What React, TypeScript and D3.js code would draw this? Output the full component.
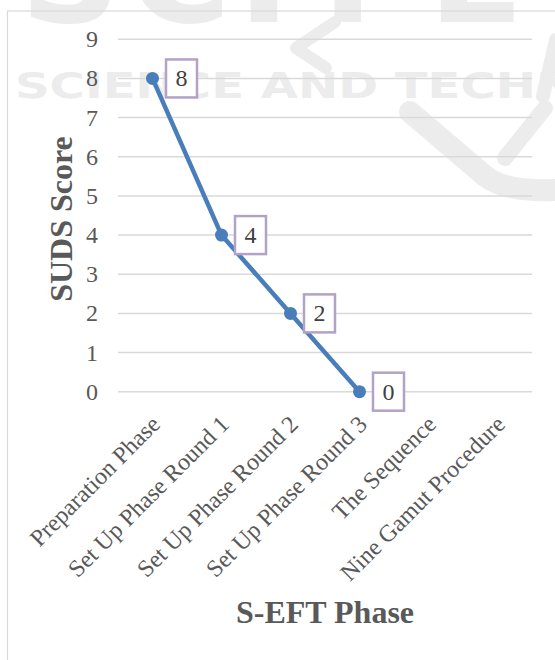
import React from "react";
import * as d3 from "d3";

// Phases on the x axis
const categories = [
  "Preparation Phase",
  "Set Up Phase Round 1",
  "Set Up Phase Round 2",
  "Set Up Phase Round 3",
  "The Sequence",
  "Nine Gamut Procedure",
];
// SUDS score recorded for the phases that have a value
const scoreValues = [8, 4, 2, 0];
const yTickValues = [0, 1, 2, 3, 4, 5, 6, 7, 8, 9];
const yTitle = "SUDS Score";
const xTitle = "S-EFT Phase";

const W = 555;
const H = 660;
const plot = { left: 118, right: 532, top: 39.3, bottom: 391.7 };

const SERIF = "'Liberation Serif', 'Times New Roman', serif";
const TEXT = "#595959";
const GRID = "#d9d9d9";
const LINE = "#4a7ebb";
const LABEL_BOX = "#b3a2c7";
const WATERMARK = "#ececec";

export default function App() {
  const x = d3
    .scalePoint<string>()
    .domain(categories)
    .range([plot.left, plot.right])
    .padding(0.5);
  const y = d3.scaleLinear().domain([0, 9]).range([plot.bottom, plot.top]);

  const points = scoreValues.map((v, i) => ({ cat: categories[i], v }));
  const line = d3
    .line<{ cat: string; v: number }>()
    .x((d) => x(d.cat) as number)
    .y((d) => y(d.v));

  return (
    <svg
      width={W}
      height={H}
      style={{ position: "absolute", left: 0, top: 0, background: "#fff" }}
    >
      {/* faint publisher watermark behind the chart */}
      <g fill={WATERMARK} fontFamily="'DejaVu Sans', sans-serif" fontWeight="bold">
        <text x={20} y={22} fontSize={140}>S</text>
        <text x={128} y={22} fontSize={140}>C</text>
        <text x={238} y={22} fontSize={140}>I</text>
        <text x={300} y={22} fontSize={140}>T</text>
        <text x={428} y={22} fontSize={140}>E</text>
        <text
          x={15}
          y={98}
          fontSize={36}
          textLength={745}
          lengthAdjust="spacingAndGlyphs"
        >
          SCIENCE AND TECHNOLOGY
        </text>
      </g>
      <g fill="none" stroke={WATERMARK} strokeLinecap="round" strokeLinejoin="round">
        <path d="M335,22 L296,48 L326,68" strokeWidth={12} />
        <path d="M410,112 L485,176 Q505,192 555,190" strokeWidth={22} />
        <path d="M545,108 L505,158" strokeWidth={16} />
        <path d="M556,40 L543,96" strokeWidth={14} />
      </g>

      {/* chart area border */}
      <rect x={7.5} y={11} width={W} height={H} fill="none" stroke={GRID} strokeWidth={1.2} />

      {/* gridlines */}
      <g stroke={GRID} strokeWidth={1.5}>
        {yTickValues.map((t) => (
          <line key={t} x1={plot.left} x2={plot.right} y1={y(t)} y2={y(t)} />
        ))}
      </g>

      {/* y tick labels */}
      <g fontFamily={SERIF} fontSize={24} fill={TEXT} textAnchor="end">
        {yTickValues.map((t) => (
          <text key={t} x={98} y={y(t) + 8}>
            {t}
          </text>
        ))}
      </g>

      {/* x tick labels, rotated */}
      <g fontFamily={SERIF} fontSize={24} fill={TEXT} textAnchor="end">
        {categories.map((c) => {
          const ax = (x(c) as number) + 9;
          const ay = plot.bottom + 34;
          return (
            <text key={c} transform={`translate(${ax},${ay}) rotate(-45)`}>
              {c}
            </text>
          );
        })}
      </g>

      {/* axis titles */}
      <text
        x={(plot.left + plot.right) / 2}
        y={623}
        textAnchor="middle"
        fontFamily={SERIF}
        fontWeight="bold"
        fontSize={32}
        fill={TEXT}
      >
        {xTitle}
      </text>
      <text
        transform="translate(71.5,219) rotate(-90)"
        textAnchor="middle"
        fontFamily={SERIF}
        fontWeight="bold"
        fontSize={32}
        fill={TEXT}
      >
        {yTitle}
      </text>

      {/* series line and markers */}
      <path d={line(points) ?? ""} fill="none" stroke={LINE} strokeWidth={4.5} strokeLinejoin="round" />
      {points.map((p) => (
        <circle key={p.cat} cx={x(p.cat)} cy={y(p.v)} r={6.5} fill={LINE} />
      ))}

      {/* boxed data labels */}
      {points.map((p) => {
        const cx = (x(p.cat) as number) + 29;
        const cy = y(p.v);
        return (
          <g key={p.cat}>
            <rect
              x={cx - 15.5}
              y={cy - 19}
              width={31}
              height={38}
              fill="#fff"
              stroke={LABEL_BOX}
              strokeWidth={2.5}
            />
            <text
              x={cx}
              y={cy + 8}
              textAnchor="middle"
              fontFamily={SERIF}
              fontSize={24}
              fill="#404040"
            >
              {p.v}
            </text>
          </g>
        );
      })}
    </svg>
  );
}
